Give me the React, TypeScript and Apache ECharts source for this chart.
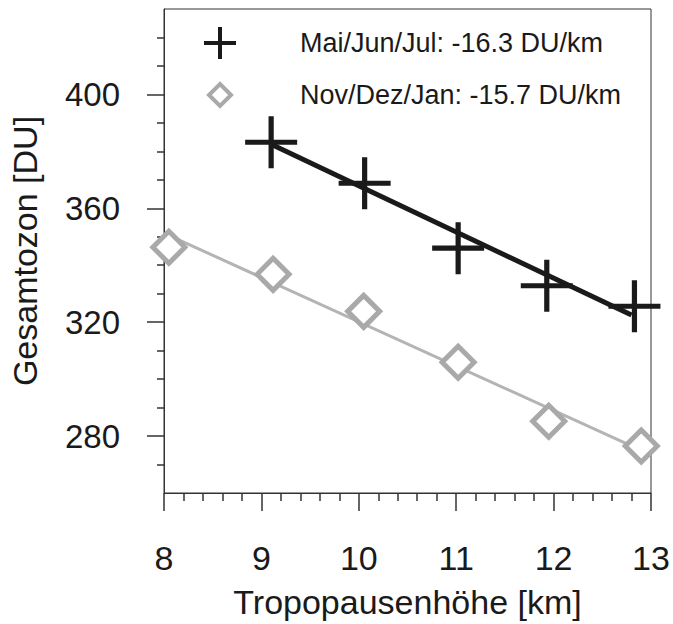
import React, { useEffect, useRef } from "react";
import * as echarts from "echarts";

// Tropopause height (km) vs. total ozone (DU), two seasons
const summerHeight = [9.1, 10.06, 11.02, 11.93, 12.83];
const summerOzone = [383.2, 368.8, 346.0, 332.8, 325.6];
const summerFitHeight = [9.1, 12.8];
const summerFitOzone = [382.5, 322.5];

const winterHeight = [8.05, 9.12, 10.05, 11.02, 11.95, 12.9];
const winterOzone = [346.3, 336.8, 323.8, 305.9, 285.2, 276.5];
const winterFitHeight = [8.05, 12.9];
const winterFitOzone = [350.5, 275.0];

const summerLabel = "Mai/Jun/Jul: -16.3 DU/km";
const winterLabel = "Nov/Dez/Jan: -15.7 DU/km";

const yMajorTicks = [280, 320, 360, 400];
const yMinorTicks = [270, 290, 300, 310, 330, 340, 350, 370, 380, 390, 410, 420];

const FONT = "'Liberation Sans', Arial, Helvetica, sans-serif";
const INK = "#1a1a1a";
const GREY = "#a9a9a9";

const PLUS = "path://M45,0H55V45H100V55H55V100H45V55H0V45H45Z";

const pairs = (xs: number[], ys: number[]) => xs.map((x, i) => [x, ys[i]]);

export default function App() {
  const ref = useRef<HTMLDivElement>(null);

  useEffect(() => {
    document.body.style.margin = "0";
    if (!ref.current) return;
    const chart = echarts.init(ref.current, undefined, { renderer: "svg" });

    chart.setOption({
      animation: false,
      backgroundColor: "#ffffff",
      textStyle: { fontFamily: FONT },
      grid: {
        left: 162,
        right: 22,
        top: 9,
        bottom: 128,
        show: true,
        borderColor: "#333",
        borderWidth: 1,
      },
      xAxis: {
        type: "value",
        min: 8,
        max: 13,
        interval: 1,
        name: "Tropopausenhöhe [km]",
        nameLocation: "middle",
        nameGap: 92,
        nameTextStyle: { fontSize: 34, color: INK, fontFamily: FONT },
        axisLine: { show: true, lineStyle: { color: "#333", width: 1 } },
        axisTick: { show: true, length: 18, lineStyle: { color: "#333", width: 1.5 } },
        minorTick: { show: true, splitNumber: 5, length: 8, lineStyle: { color: "#333", width: 1.5 } },
        axisLabel: { fontSize: 34, color: INK, margin: 48, fontFamily: FONT },
        splitLine: { show: false },
      },
      yAxis: [
        {
          type: "value",
          min: 260,
          max: 430,
          interval: 10,
          name: "Gesamtozon [DU]",
          nameLocation: "middle",
          nameGap: 122,
          nameTextStyle: { fontSize: 34, color: INK, fontFamily: FONT },
          axisLine: { show: true, lineStyle: { color: "#333", width: 1 } },
          axisTick: {
            show: true,
            length: 17,
            customValues: yMajorTicks,
            lineStyle: { color: "#333", width: 1.5 },
          },
          axisLabel: {
            fontSize: 33,
            color: INK,
            margin: 44,
            customValues: yMajorTicks,
            fontFamily: FONT,
          },
          splitLine: { show: false },
        },
        {
          type: "value",
          min: 260,
          max: 430,
          interval: 10,
          position: "left",
          axisLine: { show: false },
          axisTick: {
            show: true,
            length: 7,
            customValues: yMinorTicks,
            lineStyle: { color: "#333", width: 1.5 },
          },
          axisLabel: { show: false },
          splitLine: { show: false },
        },
      ],
      series: [
        {
          name: "winterFit",
          type: "line",
          data: pairs(winterFitHeight, winterFitOzone),
          showSymbol: false,
          lineStyle: { color: "#b4b4b4", width: 3 },
          z: 2,
        },
        {
          name: winterLabel,
          type: "scatter",
          data: pairs(winterHeight, winterOzone),
          symbol: "diamond",
          symbolSize: 32,
          itemStyle: { color: "#ffffff", borderColor: GREY, borderWidth: 5, opacity: 1 },
          z: 3,
        },
        {
          name: "summerFit",
          type: "line",
          data: pairs(summerFitHeight, summerFitOzone),
          showSymbol: false,
          lineStyle: { color: INK, width: 5 },
          z: 4,
        },
        {
          name: summerLabel,
          type: "scatter",
          data: pairs(summerHeight, summerOzone),
          symbol: PLUS,
          symbolSize: 52,
          itemStyle: { color: INK, opacity: 1 },
          z: 5,
        },
      ],
      graphic: [
        // legend: plus icon
        { type: "rect", shape: { x: 204, y: 41, width: 32, height: 4 }, style: { fill: INK } },
        { type: "rect", shape: { x: 218, y: 27, width: 4, height: 32 }, style: { fill: INK } },
        {
          type: "text",
          x: 300,
          y: 43,
          style: {
            text: summerLabel,
            fill: INK,
            font: `27px ${FONT}`,
            verticalAlign: "middle",
          },
        },
        // legend: diamond icon
        {
          type: "polygon",
          shape: { points: [[220, 84], [231, 95], [220, 106], [209, 95]] },
          style: { fill: "#fff", stroke: GREY, lineWidth: 4 },
        },
        {
          type: "text",
          x: 300,
          y: 95,
          style: {
            text: winterLabel,
            fill: INK,
            font: `27px ${FONT}`,
            verticalAlign: "middle",
          },
        },
      ],
    });

    return () => chart.dispose();
  }, []);

  return <div ref={ref} style={{ width: 673, height: 624 }} />;
}
